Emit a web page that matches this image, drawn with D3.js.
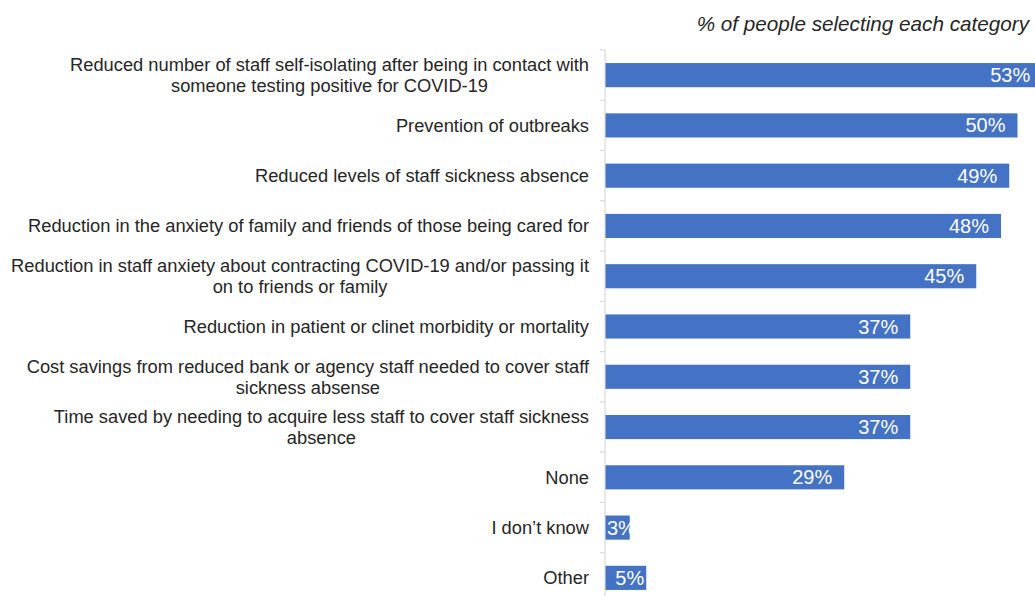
<!DOCTYPE html>
<html>
<head>
<meta charset="utf-8">
<script src="https://cdn.jsdelivr.net/npm/d3@7"></script>
<style>
  html, body { margin: 0; padding: 0; background: #fff; overflow: hidden; }
  svg { display: block; font-family: "Liberation Sans", Arial, sans-serif; }
</style>
</head>
<body>
<svg id="chart" width="1035" height="596"></svg>
<script>
// Survey categories (line breaks mark where each label wraps)
const categories = [
  "Reduced number of staff self-isolating after being in contact with\nsomeone testing positive for COVID-19",
  "Prevention of outbreaks",
  "Reduced levels of staff sickness absence",
  "Reduction in the anxiety of family and friends of those being cared for",
  "Reduction in staff anxiety about contracting COVID-19 and/or passing it\non to friends or family",
  "Reduction in patient or clinet morbidity or mortality",
  "Cost savings from reduced bank or agency staff needed to cover staff\nsickness absense",
  "Time saved by needing to acquire less staff to cover staff sickness\nabsence",
  "None",
  "I don\u2019t know",
  "Other"
];
// Share of respondents selecting each category (%)
const percentages = [53, 50, 49, 48, 45, 37, 37, 37, 29, 3, 5];
const valueLabels = ["53%", "50%", "49%", "48%", "45%", "37%", "37%", "37%", "29%", "3%", "5%"];
const chartTitle = "% of people selecting each category";

const svg = d3.select("#chart");
const barColor = "#4472C4";
const axisColor = "#d9d9d9";
const textColor = "#262626";

const x = d3.scaleLinear().domain([0, 60]).range([605, 1100]);
const y = d3.scaleBand()
  .domain(d3.range(categories.length))
  .range([50, 603])
  .paddingInner(0.52)
  .paddingOuter(0.26);

// Title
svg.append("text")
  .attr("x", 1029)
  .attr("y", 31)
  .attr("text-anchor", "end")
  .attr("font-style", "italic")
  .attr("font-size", 20.7)
  .attr("fill", textColor)
  .text(chartTitle);

// Bars
svg.append("g").selectAll("rect")
  .data(percentages)
  .join("rect")
  .attr("x", x(0))
  .attr("y", (d, i) => y(i))
  .attr("width", d => x(d) - x(0))
  .attr("height", y.bandwidth())
  .attr("fill", barColor);

// Category axis: vertical line with ticks between categories
const axisG = svg.append("g");
const step = y.step();
const boundaries = d3.range(categories.length + 1).map(i => y.range()[0] + i * step);
axisG.append("line")
  .attr("x1", x(0)).attr("x2", x(0))
  .attr("y1", y.range()[0]).attr("y2", y.range()[1])
  .attr("stroke", axisColor).attr("stroke-width", 1.2);
axisG.selectAll("line.tick")
  .data(boundaries)
  .join("line")
  .attr("class", "tick")
  .attr("x1", x(0) - 5).attr("x2", x(0))
  .attr("y1", d => d).attr("y2", d => d)
  .attr("stroke", axisColor).attr("stroke-width", 1.2);

// Category labels: wrapped lines centred within a right-aligned block
const labelRight = 589;
const lineHeight = 21;
const labelG = svg.append("g");
categories.forEach((c, i) => {
  const lines = c.split("\n");
  const cy = y(i) + y.bandwidth() / 2;
  const t = labelG.append("text")
    .attr("font-size", 18.3)
    .attr("fill", textColor)
    .attr("text-anchor", "middle");
  const spans = lines.map((ln, k) => t.append("tspan")
    .attr("y", cy + (k - (lines.length - 1) / 2) * lineHeight)
    .attr("dy", "0.35em")
    .text(ln));
  const widest = d3.max(spans, s => s.node().getComputedTextLength());
  spans.forEach(s => s.attr("x", labelRight - widest / 2));
});

// Value labels inside the bar ends
const valG = svg.append("g");
percentages.forEach((v, i) => {
  const t = valG.append("text")
    .attr("font-size", 20)
    .attr("fill", "#ffffff")
    .attr("text-anchor", "end")
    .attr("y", y(i) + y.bandwidth() / 2)
    .attr("dy", "0.35em")
    .text(valueLabels[i]);
  const w = t.node().getComputedTextLength();
  const barW = x(v) - x(0);
  let endX = barW > w + 24 ? x(v) - 12 : x(v) - 2;
  if (endX - w < x(0) + 2) endX = x(0) + 2 + w;
  t.attr("x", endX);
});
</script>
</body>
</html>
